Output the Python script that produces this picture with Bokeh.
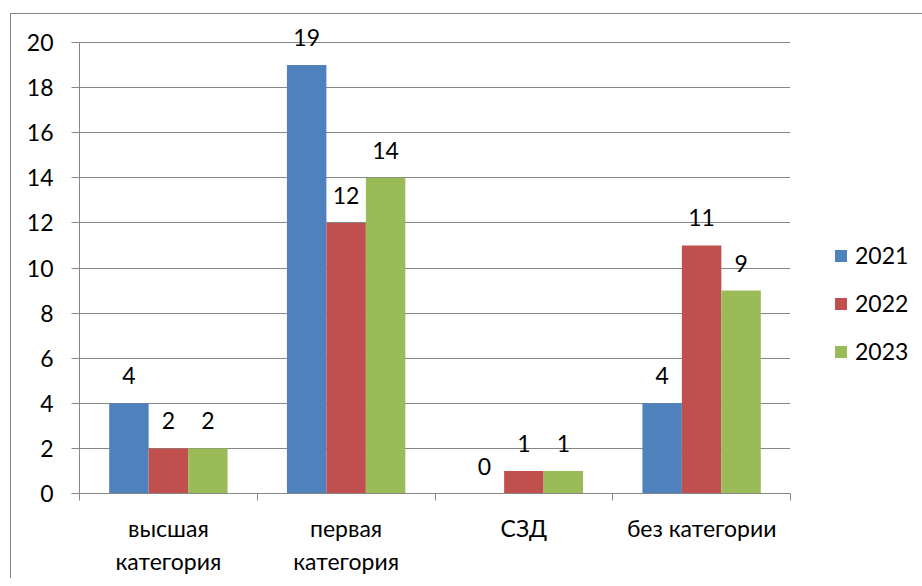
from bokeh.plotting import figure
from bokeh.models import Range1d, FixedTicker, Legend, LegendItem, ColumnDataSource, LabelSet
from bokeh.core.properties import value
from bokeh.embed import file_html
from bokeh.resources import INLINE

categories = ["высшая\nкатегория", "первая\nкатегория", "СЗД", "без категории"]
years = ["2021", "2022", "2023"]
v2021 = [4, 19, 0, 4]
v2022 = [2, 12, 1, 11]
v2023 = [2, 14, 1, 9]
series = [v2021, v2022, v2023]
colors = ["#4F81BD", "#C0504D", "#9BBB59"]
y_ticks = list(range(0, 21, 2))

FONT = "Lato"
FS = "23px"
GRAY = "#868686"
BAR_W = 0.222
offsets = [-BAR_W, 0.0, BAR_W]

# frame: 451 px for 0..20, plus 20 px headroom for the value labels
FRAME_H = 471
Y_MAX = 20
y_end = Y_MAX * FRAME_H / 451

p = figure(
    output_backend="svg", toolbar_location=None,
    frame_width=711, frame_height=FRAME_H,
    min_border_left=68, min_border_top=8, min_border_bottom=85, min_border_right=121,
    x_range=Range1d(0, len(categories)), y_range=Range1d(0, y_end),
)
p.styles = {"border-left": "1px solid #868686", "border-top": "1px solid #868686",
            "margin-left": "10px", "margin-top": "13px"}
p.outline_line_color = None
p.xgrid.visible = False
p.ygrid.ticker = FixedTicker(ticks=y_ticks)
p.ygrid.grid_line_color = GRAY
p.ygrid.grid_line_width = 1

items = []
for k, (vals, col, yr) in enumerate(zip(series, colors, years)):
    src = ColumnDataSource(dict(
        x=[i + 0.5 + offsets[k] for i in range(len(categories))],
        top=vals,
        lab=[str(v) for v in vals],
    ))
    r = p.vbar(x="x", top="top", width=BAR_W, source=src, fill_color=col, line_color=None)
    items.append(LegendItem(label=yr, renderers=[r]))
    p.add_layout(LabelSet(x="x", y="top", text="lab", source=src, text_align="center",
                          text_baseline="alphabetic", y_offset=19, text_font=value(FONT),
                          text_font_size=value(FS), text_color="black"))

yax = p.yaxis[0]
yax.ticker = FixedTicker(ticks=y_ticks)
yax.bounds = (0, Y_MAX)
yax.axis_line_color = GRAY
yax.major_tick_line_color = GRAY
yax.major_tick_out = 8
yax.major_tick_in = 0
yax.minor_tick_line_color = None
yax.major_label_text_font = FONT
yax.major_label_text_font_size = FS
yax.major_label_text_color = "black"
yax.major_label_standoff = 18

xax = p.xaxis[0]
centers = [i + 0.5 for i in range(len(categories))]
xax.ticker = FixedTicker(ticks=centers, minor_ticks=list(range(len(categories) + 1)))
xax.major_label_overrides = {c: lab for c, lab in zip(centers, categories)}
xax.axis_line_color = GRAY
xax.major_tick_line_color = None
xax.major_tick_out = 0
xax.major_tick_in = 0
xax.minor_tick_line_color = GRAY
xax.minor_tick_out = 7
xax.minor_tick_in = 0
xax.major_label_text_font = FONT
xax.major_label_text_font_size = FS
xax.major_label_text_color = "black"
xax.major_label_standoff = 13

legend = Legend(items=items, location=(43, 128), orientation="vertical",
                glyph_width=15, glyph_height=15, label_standoff=7, spacing=20,
                label_text_font=FONT, label_text_font_size=FS, label_text_color="black",
                padding=0, margin=0, border_line_color=None, background_fill_alpha=0)
p.add_layout(legend, "right")

open("out.html", "w").write(file_html(p, INLINE))
